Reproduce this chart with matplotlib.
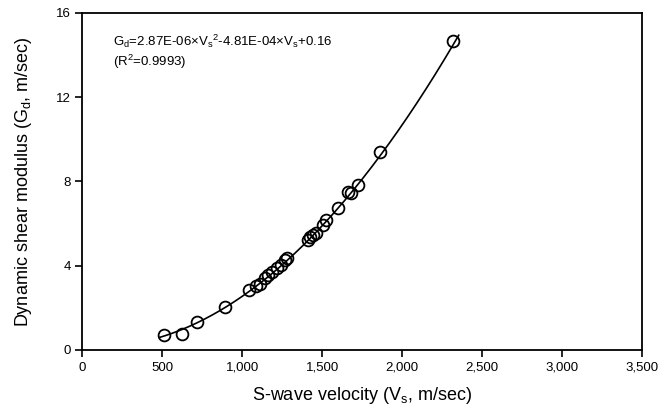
import numpy as np
import matplotlib
matplotlib.use("Agg")
import matplotlib.pyplot as plt
from matplotlib.ticker import FuncFormatter

plt.rcParams['font.family'] = ['Liberation Sans', 'DejaVu Sans']
plt.rcParams['mathtext.fontset'] = 'custom'
plt.rcParams['mathtext.rm'] = 'Liberation Sans'
plt.rcParams['mathtext.it'] = 'Liberation Sans'

# measured points
vs = [510, 620, 715, 890, 1045, 1085, 1110, 1140, 1160, 1185, 1215, 1240,
      1265, 1280, 1410, 1425, 1440, 1460, 1505, 1525, 1600, 1660, 1680,
      1725, 1860, 2320]
gd = [0.70, 0.75, 1.35, 2.02, 2.85, 3.05, 3.15, 3.40, 3.55, 3.70, 3.90, 4.05,
      4.25, 4.35, 5.20, 5.35, 5.45, 5.55, 5.95, 6.15, 6.75, 7.50, 7.45,
      7.85, 9.40, 14.65]

# fit coefficients printed on the chart
coef = [2.87e-06, -4.81e-04, 0.16]
fit_range = [480, 2355]

x_ticks = [0, 500, 1000, 1500, 2000, 2500, 3000, 3500]
y_ticks = [0, 4, 8, 12, 16]

fig = plt.figure(figsize=(6.62, 4.12), dpi=100)
ax = fig.add_axes([0.1246, 0.1505, 0.8447, 0.818])

xf = np.linspace(fit_range[0], fit_range[1], 200)
ax.plot(xf, np.polyval(coef, xf), color='black', lw=1.2)
ax.plot(vs, gd, 'o', mfc='none', mec='black', mew=1.3, ms=8.5)

ax.set_xlim(0, 3500)
ax.set_ylim(0, 16)
ax.set_xticks(x_ticks)
ax.set_yticks(y_ticks)
ax.xaxis.set_major_formatter(FuncFormatter(lambda v, p: f"{int(v):,}"))
ax.tick_params(direction='out', length=5, width=1.2, labelsize=9.5, colors='black')
for s in ax.spines.values():
    s.set_linewidth(1.3)

ax.set_xlabel(r"S-wave velocity (V$_\mathrm{s}$, m/sec)", fontsize=13, labelpad=8)
ax.set_ylabel(r"Dynamic shear modulus (G$_\mathrm{d}$, m/sec)", fontsize=13, labelpad=16)

ax.text(0.055, 0.94,
        r"G$_\mathrm{d}$=2.87E-06$\times$V$_\mathrm{s}$$^2$-4.81E-04$\times$V$_\mathrm{s}$+0.16" "\n"
        r"(R$^2$=0.9993)",
        transform=ax.transAxes, fontsize=9.5, va='top', ha='left', linespacing=1.15)

fig.savefig("out.png", dpi=100)
